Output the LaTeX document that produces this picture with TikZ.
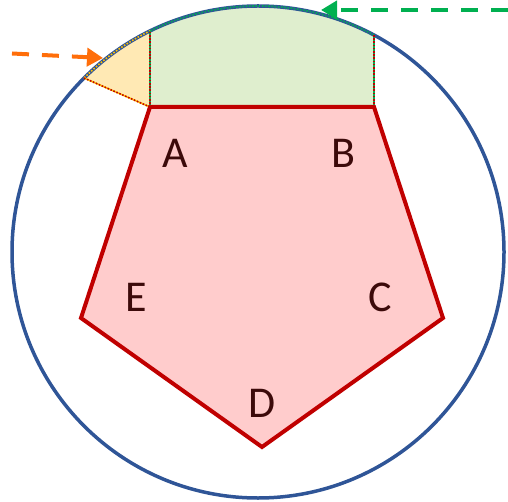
\documentclass[tikz,border=0pt]{standalone}
\usepackage{fontspec}
\setmainfont{Carlito}
\usetikzlibrary{arrows.meta}
\definecolor{circblue}{RGB}{47,85,151}
\definecolor{pentred}{RGB}{192,0,0}
\definecolor{pentfill}{RGB}{255,204,204}
\definecolor{greenfill}{RGB}{223,238,206}
\definecolor{yellowfill}{RGB}{255,233,180}
\definecolor{greenline}{RGB}{0,176,80}
\definecolor{orangeline}{RGB}{255,110,10}
\definecolor{yellowline}{RGB}{255,192,0}
\definecolor{labelcol}{RGB}{60,10,10}
\tikzset{
  lbl/.style={font=\fontsize{44}{44}\selectfont, text=labelcol, inner sep=0pt},
  dotline/.style={line width=1.6pt, dash pattern=on 1.6pt off 1.6pt},
  dasharrow/.style={line width=4pt, dash pattern=on 17pt off 13pt, -{Triangle[length=16pt,width=18pt]}},
}
\begin{document}
\begin{tikzpicture}[x=1pt,y=-1pt]
\useasboundingbox (0,0) rectangle (508,502);
\coordinate (O) at (258,252);
\coordinate (A) at (150,107);
\coordinate (B) at (374,107);
\coordinate (C) at (443,318);
\coordinate (D) at (262,447);
\coordinate (E) at (81,318);
\coordinate (Y) at (84,78);
% green region
\begin{scope}
  \clip (O) circle[radius=246];
  \fill[greenfill] (150,0) rectangle (374,107);
  \fill[yellowfill] (A) -- (Y) -- (30,57) -- (30,0) -- (150,0) -- cycle;
\end{scope}
% circle
\draw[circblue, line width=3.5pt] (O) circle[radius=246];
% dotted borders
\begin{scope}
  \clip (150,0) rectangle (374,120);
  \draw[greenline, line width=1.6pt] (O) circle[radius=246];
  \draw[circblue, dotline] (O) circle[radius=246];
\end{scope}
\begin{scope}
  \clip (A) -- (Y) -- (30,57) -- (30,0) -- (150,0) -- cycle;
  \draw[circblue, line width=1.6pt] (O) circle[radius=246];
  \draw[yellowline, dotline] (O) circle[radius=246];
\end{scope}
\coordinate (Atop) at (150,31);
\coordinate (Btop) at (374,35);
\draw[greenline, line width=1.6pt] (A) -- (Atop);
\draw[pentred, dotline] (A) -- (Atop);
\draw[greenline, line width=1.6pt] (B) -- (Btop);
\draw[pentred, dotline] (B) -- (Btop);
\draw[yellowline, line width=1.6pt] (A) -- (Y);
\draw[pentred, dotline] (A) -- (Y);
% pentagon
\draw[pentred, fill=pentfill, line width=4pt, line join=miter] (A) -- (B) -- (C) -- (D) -- (E) -- cycle;
% labels
\node[lbl] (la) at (175,153) {A};
\node[lbl] (lb) at (343,153) {B};
\node[lbl] (lc) at (380,297) {C};
\node[lbl] (ld) at (262,403) {D};
\node[lbl] (le) at (136,297) {E};
% arrows
\coordinate (os) at (12,53.5);
\coordinate (ot) at (103,58);
\draw[orangeline, dasharrow] (os) -- (ot);
\coordinate (gs) at (508,10);
\coordinate (gt) at (321,10);
\draw[greenline, dasharrow] (gs) -- (gt);
\end{tikzpicture}
\end{document}
